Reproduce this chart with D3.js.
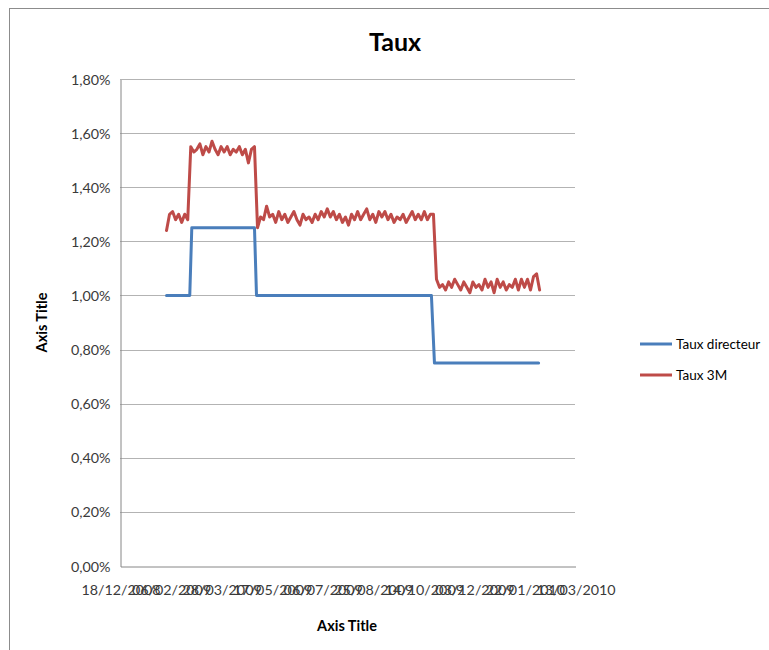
<!DOCTYPE html>
<html>
<head>
<meta charset="utf-8">
<script src="https://cdn.jsdelivr.net/npm/d3@7"></script>
<style>
  html, body { margin: 0; padding: 0; background: #fff; }
  svg { display: block; font-family: Lato, "Open Sans", sans-serif; }
</style>
</head>
<body>
<svg id="chart" width="769" height="650"></svg>
<script>
// Axis range and tick labels (date axis, major unit 50 days)
const axisStart = "2008-12-18";
const axisEnd = "2010-03-13";
const xTickLabels = ["18/12/2008", "06/02/2009", "28/03/2009", "17/05/2009", "06/07/2009",
                     "25/08/2009", "14/10/2009", "03/12/2009", "22/01/2010", "13/03/2010"];
const yTickValues = [0, 0.2, 0.4, 0.6, 0.8, 1.0, 1.2, 1.4, 1.6, 1.8];

// Taux directeur (policy rate, %), step changes
const directeurDates = ["2009-02-02", "2009-02-25", "2009-02-27", "2009-04-30",
                        "2009-05-02", "2009-10-22", "2009-10-25", "2010-02-05"];
const directeurValues = [1.00, 1.00, 1.25, 1.25, 1.00, 1.00, 0.75, 0.75];

// Taux 3M (%), one observation every 3 days from the first date
const taux3MStart = "2009-02-02";
const taux3MStepDays = 3;
const taux3MValues = [
  1.24, 1.30, 1.31, 1.28, 1.30, 1.27, 1.30, 1.28,
  1.55, 1.53, 1.54, 1.56, 1.52, 1.55, 1.53, 1.57, 1.54, 1.52, 1.55,
  1.53, 1.55, 1.52, 1.54, 1.53, 1.55, 1.52, 1.54, 1.49, 1.54, 1.55,
  1.25, 1.29, 1.28, 1.33, 1.29, 1.30, 1.27, 1.31, 1.28, 1.30,
  1.27, 1.29, 1.31, 1.28, 1.26, 1.30, 1.28, 1.29, 1.27, 1.30,
  1.28, 1.31, 1.29, 1.32, 1.29, 1.31, 1.28, 1.30, 1.27, 1.29,
  1.26, 1.30, 1.28, 1.31, 1.28, 1.30, 1.32, 1.28, 1.30, 1.27,
  1.31, 1.29, 1.31, 1.28, 1.30, 1.27, 1.29, 1.28, 1.30, 1.27,
  1.29, 1.31, 1.28, 1.30, 1.28, 1.31, 1.28, 1.30, 1.30,
  1.06, 1.03, 1.04, 1.02, 1.05, 1.03, 1.06, 1.04, 1.02, 1.05,
  1.03, 1.01, 1.05, 1.03, 1.04, 1.02, 1.06, 1.03, 1.05, 1.01,
  1.06, 1.03, 1.05, 1.02, 1.04, 1.03, 1.06, 1.02, 1.06, 1.03,
  1.06, 1.02, 1.07, 1.08, 1.02
];

const seriesNames = ["Taux directeur", "Taux 3M"];
const seriesColors = ["#4a7ebb", "#be4b48"];

const parse = d3.utcParse("%Y-%m-%d");
const directeur = directeurDates.map((d, i) => ({ date: parse(d), value: directeurValues[i] }));
const t0 = parse(taux3MStart);
const taux3M = taux3MValues.map((v, i) => ({ date: d3.utcDay.offset(t0, i * taux3MStepDays), value: v }));

const svg = d3.select("#chart");

// Chart frame
svg.append("rect")
  .attr("x", 9.5).attr("y", 8.5)
  .attr("width", 800).attr("height", 700)
  .attr("fill", "#fff")
  .attr("stroke", "#8c8c8c").attr("stroke-width", 1);

const plot = { left: 120, right: 575, top: 79, bottom: 566 };

const x = d3.scaleUtc()
  .domain([parse(axisStart), parse(axisEnd)])
  .range([plot.left, plot.right]);
const y = d3.scaleLinear()
  .domain([0, 1.8])
  .range([plot.bottom, plot.top]);

const fmtPct = v => v.toFixed(2).replace(".", ",") + "%";

// Horizontal gridlines
svg.append("g")
  .selectAll("line")
  .data(yTickValues.filter(v => v > 0))
  .join("line")
  .attr("x1", plot.left).attr("x2", plot.right)
  .attr("y1", d => Math.round(y(d)) + 0.5).attr("y2", d => Math.round(y(d)) + 0.5)
  .attr("stroke", "#b3b3b3").attr("stroke-width", 1);

// Y axis
const yAxis = svg.append("g")
  .attr("transform", `translate(${plot.left + 0.5},0.5)`)
  .call(d3.axisLeft(y).tickValues(yTickValues).tickFormat(fmtPct).tickSize(0).tickPadding(10));
yAxis.select(".domain").attr("stroke", "#868686");
yAxis.selectAll("text")
  .attr("font-family", "Lato, sans-serif")
  .attr("font-size", 14.3).attr("fill", "#3a3a3a");

// X axis
const xTickDates = xTickLabels.map(s => d3.utcParse("%d/%m/%Y")(s));
const xAxis = svg.append("g")
  .attr("transform", `translate(0.5,${plot.bottom + 0.5})`)
  .call(d3.axisBottom(x).tickValues(xTickDates)
    .tickFormat(d3.utcFormat("%d/%m/%Y")).tickSize(0).tickPadding(18));
xAxis.select(".domain").attr("stroke", "#868686");
xAxis.selectAll("text")
  .attr("font-family", "Lato, sans-serif")
  .attr("font-size", 14.3).attr("fill", "#3a3a3a");

// Series lines
const line = d3.line().x(d => x(d.date)).y(d => y(d.value));
[directeur, taux3M].forEach((data, i) => {
  svg.append("path")
    .datum(data)
    .attr("fill", "none")
    .attr("stroke", seriesColors[i])
    .attr("stroke-width", 3)
    .attr("stroke-linejoin", "round")
    .attr("stroke-linecap", "round")
    .attr("d", line);
});

// Title
svg.append("text")
  .attr("x", 395).attr("y", 51)
  .attr("text-anchor", "middle")
  .attr("font-family", "Lato, sans-serif")
  .attr("font-weight", "bold").attr("font-size", 25)
  .attr("fill", "#000")
  .text("Taux");

// Axis titles
svg.append("text")
  .attr("x", 347).attr("y", 631)
  .attr("text-anchor", "middle")
  .attr("font-family", "Lato, sans-serif")
  .attr("font-weight", "bold").attr("font-size", 14.5)
  .attr("fill", "#000")
  .text("Axis Title");
svg.append("text")
  .attr("transform", `translate(47,${(plot.top + plot.bottom) / 2}) rotate(-90)`)
  .attr("text-anchor", "middle")
  .attr("font-family", "Lato, sans-serif")
  .attr("font-weight", "bold").attr("font-size", 14.5)
  .attr("fill", "#000")
  .text("Axis Title");

// Legend
const legend = svg.append("g").attr("transform", "translate(640,344)");
seriesNames.forEach((name, i) => {
  const g = legend.append("g").attr("transform", `translate(0,${i * 31})`);
  g.append("line")
    .attr("x1", 0).attr("x2", 32).attr("y1", 0).attr("y2", 0)
    .attr("stroke", seriesColors[i]).attr("stroke-width", 3);
  g.append("text")
    .attr("x", 36).attr("y", 0).attr("dy", "0.35em")
    .attr("font-family", "Lato, sans-serif")
    .attr("font-size", 13.5).attr("fill", "#000")
    .text(name);
});
</script>
</body>
</html>
